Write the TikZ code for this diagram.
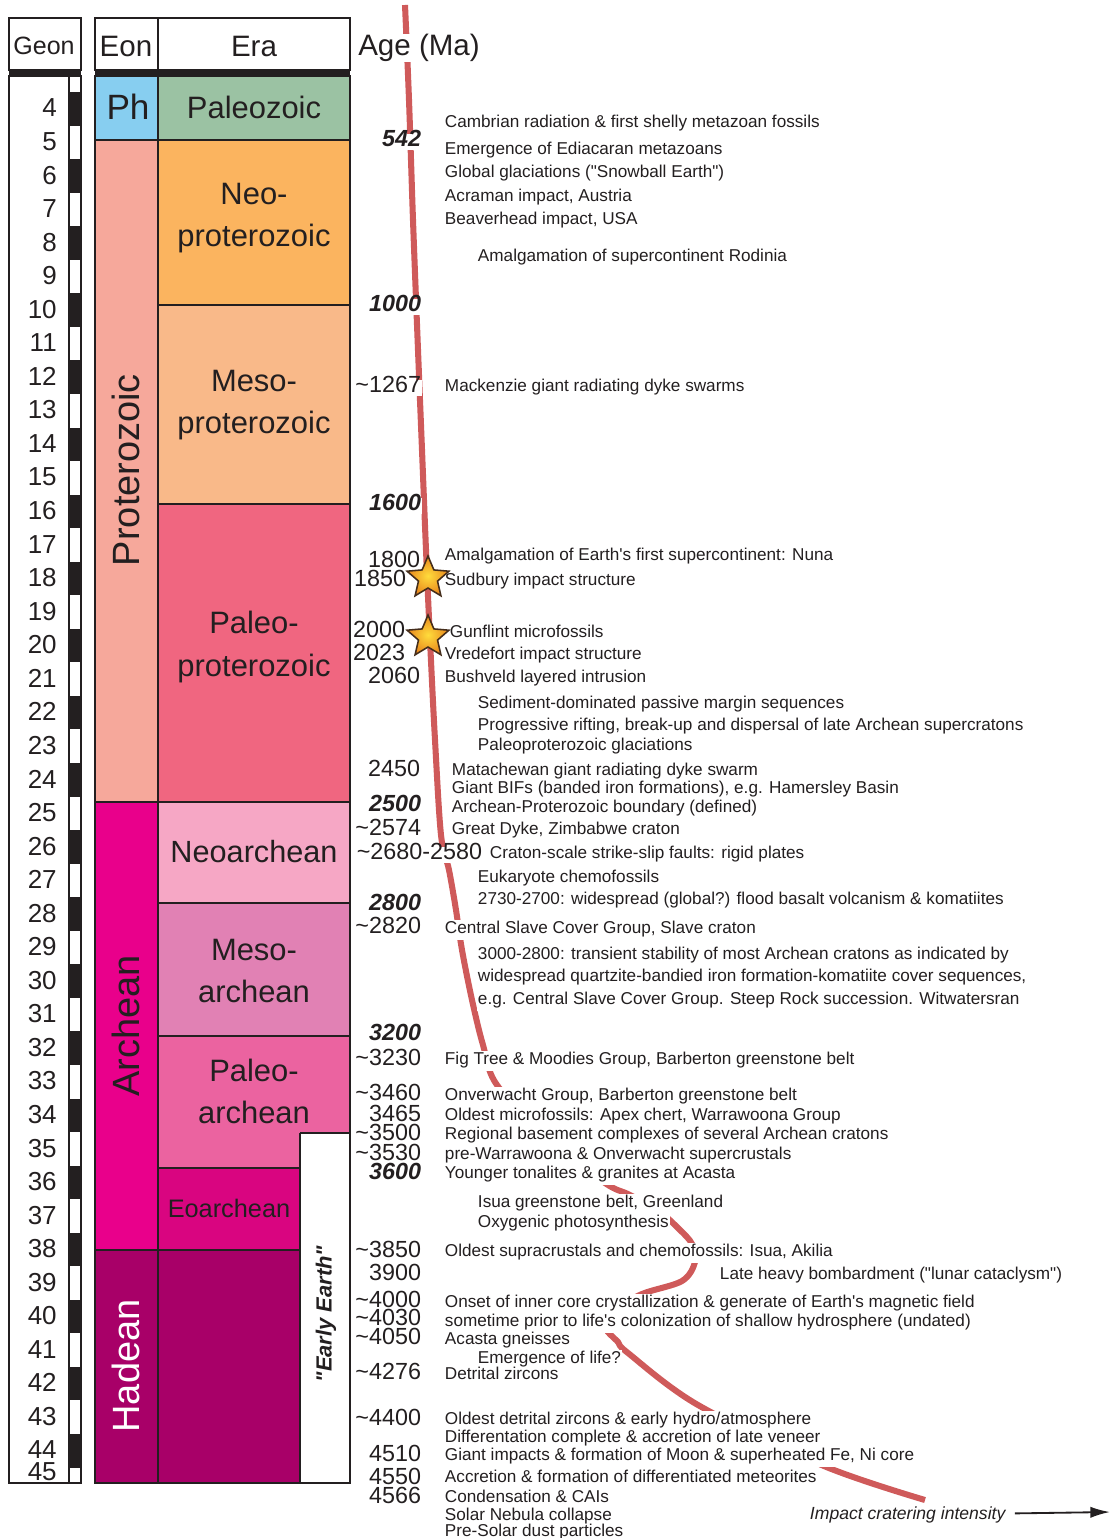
\documentclass[tikz,border=0pt]{standalone}
\usepackage{fontspec}
\setmainfont{Liberation Sans}[Ligatures=TeXOff]
\usepackage{xcolor}
\usepackage{tikz}
\usetikzlibrary{shapes.geometric,arrows.meta}
\definecolor{phcol}{HTML}{87CEF0}
\definecolor{paleozoiccol}{HTML}{9BC2A3}
\definecolor{proterozoiccol}{HTML}{F6A89B}
\definecolor{neoprotcol}{HTML}{FBB45F}
\definecolor{mesoprotcol}{HTML}{F9B989}
\definecolor{paleoprotcol}{HTML}{F06680}
\definecolor{archeancol}{HTML}{E9008B}
\definecolor{neoarchcol}{HTML}{F6A7C5}
\definecolor{mesoarchcol}{HTML}{E181B4}
\definecolor{paleoarchcol}{HTML}{EB63A0}
\definecolor{eoarchcol}{HTML}{D90580}
\definecolor{hadeancol}{HTML}{A80068}
\definecolor{curvecol}{HTML}{CF5A5A}
\definecolor{inkcol}{HTML}{231F20}
\definecolor{starin}{HTML}{FFDC3C}
\definecolor{starout}{HTML}{E8861C}
\newcommand{\ageca}{\textasciitilde}
\newcommand{\apos}{\char39\relax}
\newcommand{\dq}{\char34\relax}
\pgfdeclarelayer{curvelayer}
\pgfdeclarelayer{knocklayer}
\pgfsetlayers{curvelayer,knocklayer,main}
\tikzstyle{knockout} = [append after command={\pgfextra{\begin{pgfonlayer}{knocklayer}\fill[white] (\tikzlastnode.south west) rectangle (\tikzlastnode.north east);\end{pgfonlayer}}}]
\tikzstyle{frame} = [draw=inkcol, line width=1.4pt]
\tikzstyle{sep} = [draw=inkcol, line width=1.2pt]
\tikzstyle{head} = [text=inkcol, font=\fontsize{21}{21}\selectfont, inner sep=0pt]
\tikzstyle{geonnum} = [anchor=east, text=inkcol, font=\fontsize{18.5}{18.5}\selectfont, inner sep=0pt]
\tikzstyle{era} = [align=center, text=inkcol, font=\fontsize{22}{29.9}\selectfont, inner sep=0pt]
\tikzstyle{eon} = [rotate=90, font=\fontsize{27}{27}\selectfont, inner sep=0pt]
\tikzstyle{age} = [anchor=east, knockout, inner xsep=0.5pt, inner ysep=2pt, yshift=-2.1pt, text=inkcol, text height=0.72em, text depth=0.02em, font=\fontsize{16.6}{16.6}\selectfont]
\tikzstyle{agemark} = [age, font=\fontsize{16.6}{16.6}\selectfont\bfseries\itshape]
\tikzstyle{event} = [anchor=west, knockout, inner xsep=0.5pt, inner ysep=2.5pt, yshift=-2.1pt, text=inkcol, text height=0.7em, text depth=0.2em, font=\fontsize{12.2}{12.2}\selectfont]
\tikzstyle{impactstar} = [star, star points=5, star point ratio=2.2, minimum size=1.1cm, inner sep=0pt, draw=inkcol!85!orange, line width=1.1pt, shading=radial, inner color=starin, outer color=starout]

\begin{document}
\begin{tikzpicture}[x=0.025cm, y=-0.025cm]
	\useasboundingbox (0,0) rectangle (1112,1538);

	% geon column
	\draw[frame] (9,18) rectangle (81,70);
	\fill[inkcol] (9,70) rectangle (81,76);
	\foreach \n in {4,6,...,44}
		\fill[inkcol] (69,{92+33.55*(\n-4)}) rectangle (81,{92+33.55*(\n-3)});
	\draw[frame] (9,76) rectangle (81,1483);
	\draw[sep] (69,76) -- (69,1483);
	\node[head, font=\fontsize{17.8}{17.8}\selectfont] (geonhead) at (44,46) {Geon};
	\foreach \n in {4,...,44}
		\node[geonnum] (g\n) at (57,{108+33.55*(\n-4)}) {\n};
	\node[geonnum] (g45) at (57,1472) {45};

	% eon / era columns
	\draw[frame] (95,18) rectangle (350,70);
	\draw[frame] (158,18) -- (158,70);
	\fill[inkcol] (95,70) rectangle (350,76);
	\node[head] (eonhead) at (126,46) {Eon};
	\node[head] (erahead) at (254,46) {Era};

	\fill[phcol] (95,76) rectangle (158,140);
	\fill[paleozoiccol] (158,76) rectangle (350,140);
	\fill[proterozoiccol] (95,140) rectangle (158,802);
	\fill[neoprotcol] (158,140) rectangle (350,305);
	\fill[mesoprotcol] (158,305) rectangle (350,504);
	\fill[paleoprotcol] (158,504) rectangle (350,802);
	\fill[archeancol] (95,802) rectangle (158,1250);
	\fill[neoarchcol] (158,802) rectangle (350,903);
	\fill[mesoarchcol] (158,903) rectangle (350,1036);
	\fill[paleoarchcol] (158,1036) rectangle (350,1168);
	\fill[eoarchcol] (158,1168) rectangle (300,1250);
	\fill[hadeancol] (95,1250) rectangle (300,1483);
	\fill[white] (300,1133) rectangle (350,1483);

	\draw[sep] (95,140) -- (350,140);
	\draw[sep] (158,305) -- (350,305);
	\draw[sep] (158,504) -- (350,504);
	\draw[sep] (95,802) -- (350,802);
	\draw[sep] (158,903) -- (350,903);
	\draw[sep] (158,1036) -- (350,1036);
	\draw[sep] (158,1168) -- (300,1168);
	\draw[sep] (95,1250) -- (300,1250);
	\draw[sep] (300,1133) -- (350,1133);
	\draw[sep] (300,1133) -- (300,1483);
	\draw[sep] (158,76) -- (158,1483);
	\draw[frame] (95,76) rectangle (350,1483);

	\node[era, font=\fontsize{25}{25}\selectfont] (ph) at (128,107) {Ph};
	\node[era] (paleozoic) at (254,107) {Paleozoic};
	\node[era] (neoprot) at (254,218) {Neo-\\proterozoic};
	\node[era] (mesoprot) at (254,405) {Meso-\\proterozoic};
	\node[era] (paleoprot) at (254,647) {Paleo-\\proterozoic};
	\node[era, font=\fontsize{21.8}{21.8}\selectfont] (neoarch) at (254,852) {Neoarchean};
	\node[era] (mesoarch) at (254,971) {Meso-\\archean};
	\node[era] (paleoarch) at (254,1091) {Paleo-\\archean};
	\node[era, font=\fontsize{18}{18}\selectfont] (eoarch) at (229,1208) {Eoarchean};
	\node[eon, text=inkcol] (proterozoic) at (126,470) {Proterozoic};
	\node[eon, text=inkcol] (archean) at (126,1026) {Archean};
	\node[eon, text=white] (hadean) at (126,1366) {Hadean};
	\node[rotate=90, text=inkcol, inner sep=0pt, font=\fontsize{15.6}{15.6}\selectfont\bfseries\itshape] (early) at (326,1314) {\dq Early Earth\dq};

	% impact cratering curve
	\begin{pgfonlayer}{curvelayer}
	\draw[curvecol, line width=4.3pt] plot[smooth, tension=0.55] coordinates {
		(405,5) (409,100) (413,220) (418,350) (422,450) (426,550) (430,640)
		(435,740) (441,835) (449,870) (456,910) (462,950) (472,1000) (483,1045)
		(497,1085) (550,1140) (605,1183) (630,1195) (660,1212) (680,1230)
		(692,1244) (695,1262) (682,1281) (642,1294) (612,1311) (605,1327)
		(618,1342) (628,1353) (698,1405) (824,1466) (925,1500)};
	\end{pgfonlayer}

	% age column
	\node[head, anchor=west, knockout] (agehead) at (358,48) {Age (Ma)};
	\node[agemark] (a542) at (422,139) {542};
	\node[agemark] (a1000) at (422,304) {1000};
	\node[age] (a1267) at (422,385) {\ageca1267};
	\node[agemark] (a1600) at (422,503) {1600};
	\node[age] (a1800) at (421,560) {1800};
	\node[age] (a1850) at (407,579) {1850};
	\node[age] (a2000) at (406,630) {2000};
	\node[age] (a2023) at (406,653) {2023};
	\node[age] (a2060) at (421,676) {2060};
	\node[age] (a2450) at (421,769) {2450};
	\node[agemark] (a2500) at (422,804) {2500};
	\node[age] (a2574) at (422,828) {\ageca2574};
	\node[age] (a2680) at (483,852) {\ageca2680-2580};
	\node[agemark] (a2800) at (422,903) {2800};
	\node[age] (a2820) at (422,926) {\ageca2820};
	\node[agemark] (a3200) at (422,1033) {3200};
	\node[age] (a3230) at (422,1058) {\ageca3230};
	\node[age] (a3460) at (422,1093) {\ageca3460};
	\node[age] (a3465) at (422,1114) {3465};
	\node[age] (a3500) at (422,1133) {\ageca3500};
	\node[age] (a3530) at (422,1153) {\ageca3530};
	\node[agemark] (a3600) at (422,1172) {3600};
	\node[age] (a3850) at (422,1250) {\ageca3850};
	\node[age] (a3900) at (422,1273) {3900};
	\node[age] (a4000) at (422,1300) {\ageca4000};
	\node[age] (a4030) at (422,1318) {\ageca4030};
	\node[age] (a4050) at (422,1337) {\ageca4050};
	\node[age] (a4276) at (422,1372) {\ageca4276};
	\node[age] (a4400) at (422,1418) {\ageca4400};
	\node[age] (a4510) at (422,1454) {4510};
	\node[age] (a4550) at (422,1477) {4550};
	\node[age] (a4566) at (422,1496) {4566};

	% events
	\node[event] (cambrian) at (444,121) {Cambrian radiation \& first shelly metazoan fossils};
	\node[event] (ediacaran) at (444,148) {Emergence of Ediacaran metazoans};
	\node[event] (snowball) at (444,171) {Global glaciations (\dq Snowball Earth\dq)};
	\node[event] (acraman) at (444,195) {Acraman impact, Austria};
	\node[event] (beaverhead) at (444,218) {Beaverhead impact, USA};
	\node[event] (rodinia) at (477,255) {Amalgamation of supercontinent Rodinia};
	\node[event] (mackenzie) at (444,385) {Mackenzie giant radiating dyke swarms};
	\node[event] (nuna) at (444,554) {Amalgamation of Earth\apos s first supercontinent: Nuna};
	\node[event] (sudbury) at (444,579) {Sudbury impact structure};
	\node[event] (gunflint) at (449,631) {Gunflint microfossils};
	\node[event] (vredefort) at (444,653) {Vredefort impact structure};
	\node[event] (bushveld) at (444,676) {Bushveld layered intrusion};
	\node[event] (passive) at (477,702) {Sediment-dominated passive margin sequences};
	\node[event] (rifting) at (477,724) {Progressive rifting, break-up and dispersal of late Archean supercratons};
	\node[event] (glacpp) at (477,744) {Paleoproterozoic glaciations};
	\node[event] (matachewan) at (451,769) {Matachewan giant radiating dyke swarm};
	\node[event] (bifs) at (451,787) {Giant BIFs (banded iron formations), e.g. Hamersley Basin};
	\node[event] (boundary) at (451,806) {Archean-Proterozoic boundary (defined)};
	\node[event] (greatdyke) at (451,828) {Great Dyke, Zimbabwe craton};
	\node[event] (strikeslip) at (489,852) {Craton-scale strike-slip faults: rigid plates};
	\node[event] (eukaryote) at (477,876) {Eukaryote chemofossils};
	\node[event] (floodbasalt) at (477,898) {2730-2700: widespread (global?) flood basalt volcanism \& komatiites};
	\node[event] (slave) at (444,927) {Central Slave Cover Group, Slave craton};
	\node[event] (stability) at (477,953) {3000-2800: transient stability of most Archean cratons as indicated by};
	\node[event] (quartzite) at (477,975) {widespread quartzite-bandied iron formation-komatiite cover sequences,};
	\node[event] (steeprock) at (477,998) {e.g. Central Slave Cover Group. Steep Rock succession. Witwatersran};
	\node[event] (figtree) at (444,1058) {Fig Tree \& Moodies Group, Barberton greenstone belt};
	\node[event] (onverwacht) at (444,1094) {Onverwacht Group, Barberton greenstone belt};
	\node[event] (apex) at (444,1114) {Oldest microfossils: Apex chert, Warrawoona Group};
	\node[event] (basement) at (444,1133) {Regional basement complexes of several Archean cratons};
	\node[event] (prewarra) at (444,1153) {pre-Warrawoona \& Onverwacht supercrustals};
	\node[event] (tonalites) at (444,1172) {Younger tonalites \& granites at Acasta};
	\node[event] (isua) at (477,1201) {Isua greenstone belt, Greenland};
	\node[event] (oxygenic) at (477,1221) {Oxygenic photosynthesis};
	\node[event] (supracrustal) at (444,1250) {Oldest supracrustals and chemofossils: Isua, Akilia};
	\node[event] (lhb) at (719,1273) {Late heavy bombardment (\dq lunar cataclysm\dq)};
	\node[event] (innercore) at (444,1301) {Onset of inner core crystallization \& generate of Earth\apos s magnetic field};
	\node[event] (colonization) at (444,1320) {sometime prior to life\apos s colonization of shallow hydrosphere (undated)};
	\node[event] (acasta) at (444,1338) {Acasta gneisses};
	\node[event] (life) at (477,1357) {Emergence of life?};
	\node[event] (zircons) at (444,1373) {Detrital zircons};
	\node[event] (oldzircons) at (444,1418) {Oldest detrital zircons \& early hydro/atmosphere};
	\node[event] (veneer) at (444,1436) {Differentation complete \& accretion of late veneer};
	\node[event] (moon) at (444,1454) {Giant impacts \& formation of Moon \& superheated Fe, Ni core};
	\node[event] (meteorites) at (444,1476) {Accretion \& formation of differentiated meteorites};
	\node[event] (cais) at (444,1496) {Condensation \& CAIs};
	\node[event] (nebula) at (444,1514) {Solar Nebula collapse};
	\node[event] (presolar) at (444,1530) {Pre-Solar dust particles};

	% impact structures
	\node[impactstar] (sudburystar) at (428,578) {};
	\node[impactstar] (vredefortstar) at (428,637) {};

	% intensity axis
	\node[anchor=west, inner sep=0.5pt, yshift=-2.1pt, text=inkcol, font=\fontsize{12.5}{12.5}\selectfont\itshape] (intensity) at (809,1512) {Impact cratering intensity};
	\coordinate (axisend) at (1110,1512);
	\draw[-{Latex[length=14pt,width=8pt]}, inkcol, line width=1.3pt, shorten <=6pt] (intensity) -- (axisend);
\end{tikzpicture}
\end{document}
